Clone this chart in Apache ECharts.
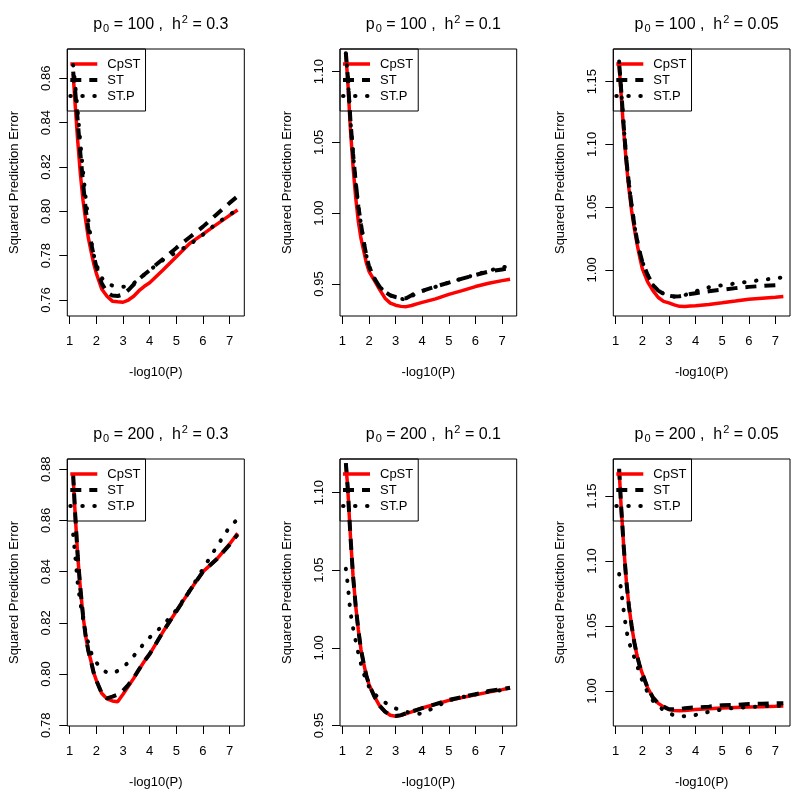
<!DOCTYPE html>
<html><head><meta charset="utf-8">
<script src="https://cdn.jsdelivr.net/npm/echarts@6/dist/echarts.min.js"></script>
<style>html,body{margin:0;padding:0;background:#fff}#c{width:800px;height:797px}</style>
</head><body><div id="c"></div>
<script>
// -log10(P) thresholds shared by every curve
const xGrid = [1.13, 1.2, 1.3, 1.4, 1.5, 1.6, 1.7, 1.8, 1.9, 2.0, 2.2, 2.4, 2.6, 2.8, 3.0, 3.2, 3.4, 3.6, 3.8, 4.0, 4.5, 5.0, 5.5, 6.0, 6.5, 7.0, 7.3];
const xTicks = [1, 2, 3, 4, 5, 6, 7];
const seriesNames = ['CpST', 'ST', 'ST.P'];

// p0 = 100, h2 = 0.3
const p1_CpST = [0.862, 0.849, 0.832, 0.817, 0.805, 0.796, 0.788, 0.782, 0.7765, 0.772, 0.765, 0.7617, 0.7595, 0.7592, 0.759, 0.760, 0.7617, 0.7642, 0.7662, 0.7678, 0.7735, 0.7795, 0.7855, 0.7897, 0.794, 0.7982, 0.8006];
const p1_ST   = [0.863, 0.855, 0.841, 0.826, 0.813, 0.801, 0.792, 0.786, 0.780, 0.775, 0.7675, 0.7635, 0.762, 0.7618, 0.7625, 0.7645, 0.767, 0.7695, 0.7715, 0.7735, 0.7785, 0.7835, 0.7883, 0.7931, 0.7985, 0.8038, 0.8068];
const p1_STP  = [0.866, 0.858, 0.845, 0.831, 0.818, 0.806, 0.796, 0.787, 0.7805, 0.776, 0.770, 0.7675, 0.7665, 0.7662, 0.766, 0.7662, 0.7675, 0.7695, 0.7715, 0.7735, 0.778, 0.7815, 0.785, 0.7895, 0.7945, 0.7985, 0.8008];
const p1_yTicks = [0.76, 0.78, 0.80, 0.82, 0.84, 0.86];

// p0 = 100, h2 = 0.1
const p2_CpST = [1.112, 1.094, 1.060, 1.033, 1.011, 0.994, 0.982, 0.9735, 0.965, 0.959, 0.9525, 0.946, 0.940, 0.9365, 0.935, 0.9342, 0.934, 0.9348, 0.936, 0.937, 0.9395, 0.9427, 0.9453, 0.9482, 0.9505, 0.9524, 0.9534];
const p2_ST   = [1.113, 1.097, 1.066, 1.042, 1.022, 1.0046, 0.992, 0.980, 0.970, 0.9625, 0.954, 0.948, 0.9445, 0.942, 0.9408, 0.940, 0.940, 0.942, 0.9443, 0.9452, 0.9482, 0.951, 0.9538, 0.9564, 0.9588, 0.9603, 0.9612];
const p2_STP  = [1.113, 1.097, 1.066, 1.042, 1.022, 1.0046, 0.992, 0.980, 0.970, 0.9625, 0.954, 0.948, 0.9445, 0.942, 0.9405, 0.9395, 0.939, 0.9412, 0.9438, 0.945, 0.948, 0.951, 0.9538, 0.9566, 0.9592, 0.9622, 0.9615];
const p2_yTicks = [0.95, 1.00, 1.05, 1.10];

// p0 = 100, h2 = 0.05
const p3_CpST = [1.163, 1.141, 1.111, 1.085, 1.064, 1.047, 1.033, 1.021, 1.0105, 1.001, 0.9905, 0.9835, 0.978, 0.975, 0.9738, 0.9722, 0.971, 0.9708, 0.9712, 0.9715, 0.9725, 0.9738, 0.9752, 0.9767, 0.9775, 0.9783, 0.9788];
const p3_ST   = [1.165, 1.145, 1.115, 1.088, 1.068, 1.051, 1.036, 1.024, 1.0145, 1.0065, 0.996, 0.988, 0.9835, 0.981, 0.9795, 0.9788, 0.979, 0.9798, 0.9808, 0.9815, 0.983, 0.9843, 0.9855, 0.9865, 0.9872, 0.9878, 0.988];
const p3_STP  = [1.166, 1.145, 1.115, 1.088, 1.068, 1.051, 1.036, 1.024, 1.0145, 1.0065, 0.996, 0.988, 0.9835, 0.981, 0.9795, 0.9788, 0.979, 0.980, 0.9815, 0.983, 0.9862, 0.9878, 0.9892, 0.9907, 0.9921, 0.9933, 0.994];
const p3_yTicks = [1.00, 1.05, 1.10, 1.15];

// p0 = 200, h2 = 0.3
const p4_CpST = [0.877, 0.8635, 0.8462, 0.8335, 0.8228, 0.8148, 0.809, 0.805, 0.8005, 0.7975, 0.7925, 0.7903, 0.7895, 0.7892, 0.7921, 0.7952, 0.7983, 0.8018, 0.805, 0.8078, 0.8165, 0.8245, 0.8325, 0.840, 0.8447, 0.8508, 0.855];
const p4_ST   = [0.878, 0.8635, 0.8462, 0.8335, 0.8228, 0.8148, 0.809, 0.805, 0.8005, 0.7975, 0.7925, 0.7905, 0.7912, 0.792, 0.7935, 0.7958, 0.7985, 0.8018, 0.805, 0.8078, 0.8165, 0.8245, 0.8325, 0.840, 0.8447, 0.8505, 0.8545];
const p4_STP  = [0.8545, 0.847, 0.8355, 0.8278, 0.8216, 0.8161, 0.812, 0.8085, 0.8058, 0.8045, 0.802, 0.8005, 0.8003, 0.8012, 0.8028, 0.8045, 0.807, 0.8097, 0.812, 0.8143, 0.819, 0.825, 0.8325, 0.8411, 0.8495, 0.8575, 0.8605];
const p4_yTicks = [0.78, 0.80, 0.82, 0.84, 0.86, 0.88];

// p0 = 200, h2 = 0.1
const p5_CpST = [1.119, 1.103, 1.0725, 1.0465, 1.027, 1.0115, 0.9988, 0.990, 0.9822, 0.9765, 0.9688, 0.9627, 0.959, 0.9566, 0.956, 0.9565, 0.9577, 0.9588, 0.960, 0.9613, 0.9637, 0.9662, 0.968, 0.9698, 0.9715, 0.9731, 0.9742];
const p5_ST   = [1.119, 1.103, 1.0725, 1.0465, 1.027, 1.0115, 0.9988, 0.990, 0.9822, 0.9765, 0.9688, 0.9627, 0.959, 0.9566, 0.9562, 0.9567, 0.958, 0.959, 0.9601, 0.9612, 0.9638, 0.9665, 0.9683, 0.9702, 0.9722, 0.9735, 0.9743];
const p5_STP  = [1.051, 1.041, 1.023, 1.013, 1.0045, 0.9965, 0.9895, 0.9835, 0.979, 0.975, 0.9705, 0.9672, 0.9648, 0.9628, 0.961, 0.9598, 0.9588, 0.958, 0.9576, 0.9577, 0.962, 0.9662, 0.9683, 0.970, 0.9718, 0.9728, 0.9735];
const p5_yTicks = [0.95, 1.00, 1.05, 1.10];

// p0 = 200, h2 = 0.05
const p6_CpST = [1.170, 1.1435, 1.1115, 1.0845, 1.0649, 1.050, 1.0375, 1.0275, 1.0195, 1.0135, 1.0025, 0.995, 0.9905, 0.9878, 0.9858, 0.9851, 0.9849, 0.9851, 0.9854, 0.9858, 0.9863, 0.9869, 0.9874, 0.9877, 0.988, 0.9883, 0.9885];
const p6_ST   = [1.171, 1.1435, 1.1115, 1.0845, 1.0649, 1.050, 1.0375, 1.0275, 1.0195, 1.0135, 1.0025, 0.995, 0.9905, 0.988, 0.986, 0.986, 0.9862, 0.9868, 0.9872, 0.9873, 0.988, 0.989, 0.9893, 0.990, 0.9902, 0.9905, 0.9906];
const p6_STP  = [1.090, 1.078, 1.062, 1.047, 1.0375, 1.0315, 1.0258, 1.020, 1.0136, 1.008, 0.999, 0.9925, 0.9885, 0.9853, 0.983, 0.9812, 0.9808, 0.9806, 0.9808, 0.9816, 0.984, 0.9858, 0.9872, 0.9875, 0.9885, 0.9885, 0.9887];
const p6_yTicks = [1.00, 1.05, 1.10, 1.15];

const p0Labels = ['100', '100', '100', '200', '200', '200'];
const h2Labels = ['0.3', '0.1', '0.05', '0.3', '0.1', '0.05'];
const yRanges = [[0.7528, 0.8732], [0.9274, 1.116], [0.9633, 1.176], [0.7797, 0.884], [0.9497, 1.1216], [0.9731, 1.1785]];
const xRange = [0.91, 7.55];

const panelData = [
  [p1_CpST, p1_ST, p1_STP, p1_yTicks],
  [p2_CpST, p2_ST, p2_STP, p2_yTicks],
  [p3_CpST, p3_ST, p3_STP, p3_yTicks],
  [p4_CpST, p4_ST, p4_STP, p4_yTicks],
  [p5_CpST, p5_ST, p5_STP, p5_yTicks],
  [p6_CpST, p6_ST, p6_STP, p6_yTicks]
];

// layout (px)
const colLeft = [67.3, 340, 613.3];
const colW = [177, 176.7, 176.7];
const rowTop = [49, 459];
const plotH = 267;
const FONT = 'Liberation Sans, Arial, Helvetica, sans-serif';

const styles = [
  { color: '#ff0000', width: 3.5, type: 'solid', cap: 'butt' },
  { color: '#000000', width: 4, type: [11, 8], cap: 'butt' },
  { color: '#000000', width: 4, type: [0.5, 11.5], cap: 'round' }
];

const grids = [], xAxes = [], yAxes = [], series = [], titles = [], legends = [];
panelData.forEach((pd, i) => {
  const r = Math.floor(i / 3), c = i % 3;
  grids.push({ left: colLeft[c], top: rowTop[r], width: colW[c], height: plotH,
    show: true, borderColor: '#000', borderWidth: 1, backgroundColor: 'transparent' });
  xAxes.push({ type: 'value', gridIndex: i, min: xRange[0], max: xRange[1],
    axisLine: { show: false },
    axisTick: { show: true, length: 8, lineStyle: { color: '#000', width: 1 }, customValues: xTicks },
    axisLabel: { customValues: xTicks, margin: 19, fontSize: 13, color: '#000', fontFamily: FONT },
    splitLine: { show: false },
    name: '-log10(P)', nameLocation: 'middle', nameGap: 50,
    nameTextStyle: { fontSize: 13, color: '#000', fontFamily: FONT } });
  yAxes.push({ type: 'value', gridIndex: i, min: yRanges[i][0], max: yRanges[i][1],
    axisLine: { show: false },
    axisTick: { show: true, length: 8, lineStyle: { color: '#000', width: 1 }, customValues: pd[3] },
    axisLabel: { customValues: pd[3], rotate: 90, margin: 14, fontSize: 13, color: '#000', fontFamily: FONT,
      formatter: v => v.toFixed(2) },
    splitLine: { show: false },
    name: 'Squared Prediction Error', nameLocation: 'middle', nameRotate: 90, nameGap: 46,
    nameTextStyle: { fontSize: 13, color: '#000', fontFamily: FONT } });
  for (let s = 0; s < 3; s++) {
    series.push({ type: 'line', name: seriesNames[s], xAxisIndex: i, yAxisIndex: i,
      data: xGrid.map((x, k) => [x, pd[s][k]]),
      symbol: 'none', showSymbol: false, animation: false, z: 2 + s,
      lineStyle: styles[s], itemStyle: { color: styles[s].color } });
  }
  titles.push({
    text: '{t|p}{sub|0}{t| = ' + p0Labels[i] + ' ,  h}{sup|2}{t| = ' + h2Labels[i] + '}',
    left: colLeft[c] + colW[c] / 2, top: rowTop[r] - 40, textAlign: 'center',
    textStyle: { fontSize: 16, fontWeight: 'normal', color: '#000', fontFamily: FONT,
      rich: {
        t: { fontSize: 16, color: '#000', fontFamily: FONT, lineHeight: 20 },
        sub: { fontSize: 11, color: '#000', fontFamily: FONT, padding: [9, 0, 0, 1] },
        sup: { fontSize: 11, color: '#000', fontFamily: FONT, padding: [0, 0, 10, 1] }
      } }
  });
  legends.push({
    left: colLeft[c], top: rowTop[r], orient: 'vertical',
    itemWidth: 27, itemHeight: 14, itemGap: 2,
    padding: [8, 5, 8, 1], borderColor: '#000', borderWidth: 1, borderRadius: 0,
    selectedMode: false,
    textStyle: { fontSize: 13, color: '#000', fontFamily: FONT, lineHeight: 14, padding: [0, 0, 0, 5] },
    data: seriesNames.map((n, s) => ({ name: n, lineStyle: { color: styles[s].color, width: styles[s].width, type: styles[s].type, cap: styles[s].cap }, itemStyle: { opacity: 0 } }))
  });
});

const chart = echarts.init(document.getElementById('c'), null, { renderer: 'canvas' });
chart.setOption({ backgroundColor: '#fff', animation: false, title: titles, legend: legends,
  grid: grids, xAxis: xAxes, yAxis: yAxes, series: series });
</script></body></html>
